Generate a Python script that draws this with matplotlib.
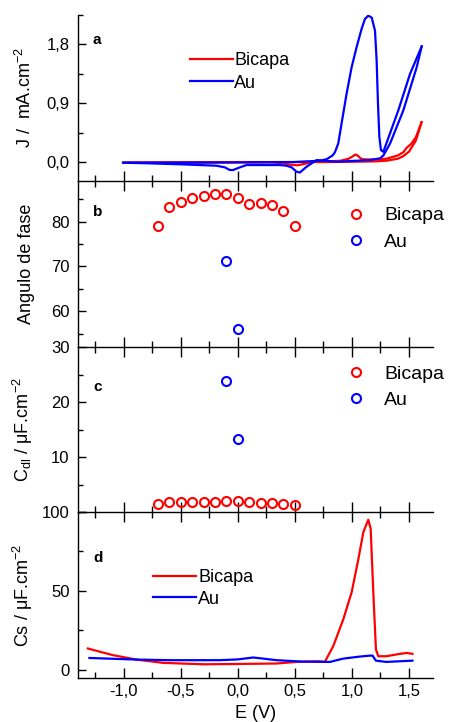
import matplotlib
matplotlib.use("Agg")
import matplotlib.pyplot as plt
from matplotlib.ticker import MultipleLocator, FuncFormatter

plt.rcParams["font.family"] = ["Liberation Sans", "DejaVu Sans"]
plt.rcParams["mathtext.fontset"] = "custom"
plt.rcParams["mathtext.rm"] = "Liberation Sans"
plt.rcParams["mathtext.it"] = "Liberation Sans:italic"
plt.rcParams["mathtext.bf"] = "Liberation Sans:bold"

# ---- (a) cyclic voltammograms: J (mA/cm2) vs E (V) ----
cv_bicapa_fwd_E = [-1.0, -0.5, 0.0, 0.5, 0.8, 0.9, 0.97, 1.0, 1.03, 1.05, 1.08, 1.12, 1.2, 1.3, 1.4, 1.45, 1.48, 1.52, 1.56, 1.61]
cv_bicapa_fwd_J = [-0.01, -0.005, 0.0, 0.0, 0.01, 0.02, 0.05, 0.08, 0.115, 0.10, 0.05, 0.04, 0.04, 0.05, 0.10, 0.15, 0.22, 0.28, 0.38, 0.61]
cv_bicapa_rev_E = [1.61, 1.56, 1.5, 1.45, 1.4, 1.3, 1.2, 1.0, 0.8, 0.65, 0.58, 0.52, 0.46, 0.38, 0.3, 0.0, -0.5, -1.0]
cv_bicapa_rev_J = [0.61, 0.33, 0.16, 0.09, 0.05, 0.02, 0.01, 0.005, 0.0, 0.0, -0.03, -0.05, -0.04, -0.015, -0.005, -0.005, -0.005, -0.01]

cv_au_fwd_E = [-1.0, -0.5, 0.0, 0.5, 0.72, 0.78, 0.807, 0.83, 0.851, 0.88, 0.909, 0.953, 0.997, 1.041, 1.085, 1.114, 1.143, 1.173, 1.202, 1.216, 1.228, 1.24, 1.254, 1.275, 1.333, 1.406, 1.509, 1.611]
cv_au_fwd_J = [-0.01, -0.01, -0.005, 0.0, 0.02, 0.045, 0.075, 0.1, 0.15, 0.284, 0.59, 1.046, 1.45, 1.76, 2.04, 2.19, 2.24, 2.21, 2.01, 1.56, 0.895, 0.387, 0.183, 0.157, 0.437, 0.79, 1.35, 1.77]
cv_au_rev_E = [1.611, 1.567, 1.45, 1.333, 1.275, 1.246, 1.158, 0.865, 0.69, 0.602, 0.544, 0.515, 0.471, 0.427, 0.368, 0.076, 0.018, -0.041, -0.07, -0.114, -0.187, -0.48, -0.772, -1.006]
cv_au_rev_J = [1.77, 1.45, 0.79, 0.28, 0.10, 0.057, 0.03, 0.005, 0.03, -0.072, -0.16, -0.148, -0.081, -0.056, -0.046, -0.046, -0.081, -0.122, -0.122, -0.081, -0.056, -0.036, -0.02, -0.01]

# ---- (b) phase angle and (c) double-layer capacitance ----
eis_bicapa_E = [-0.7, -0.6, -0.5, -0.4, -0.3, -0.2, -0.1, 0.0, 0.1, 0.2, 0.3, 0.4, 0.5]
phase_bicapa = [79.0, 83.2, 84.5, 85.2, 85.7, 86.1, 86.3, 85.4, 84.0, 84.1, 83.7, 82.5, 79.0]
cdl_bicapa = [1.5, 1.8, 1.8, 1.85, 1.85, 1.9, 2.0, 2.05, 1.8, 1.7, 1.7, 1.5, 1.2]
eis_au_E = [-0.1, 0.0]
phase_au = [71.2, 56.0]
cdl_au = [23.9, 13.3]

# ---- (d) series capacitance vs E ----
cs_bicapa_E = [-1.313, -1.2, -1.094, -0.89, -0.655, -0.3, -0.01, 0.34, 0.515, 0.69, 0.763, 0.836, 0.924, 0.997, 1.056, 1.1, 1.143, 1.164, 1.187, 1.21, 1.231, 1.30, 1.42, 1.48, 1.53]
cs_bicapa = [13.4, 11.2, 9.2, 6.4, 4.3, 3.4, 3.6, 3.9, 4.9, 5.3, 5.0, 14.9, 31.9, 49.0, 70.0, 87.3, 95.1, 89.4, 49.0, 12.8, 8.5, 8.5, 10.0, 10.6, 10.0]
cs_au_E = [-1.30, -0.89, -0.6, -0.16, 0.0, 0.134, 0.2, 0.34, 0.57, 0.807, 0.924, 1.07, 1.158, 1.18, 1.21, 1.30, 1.53]
cs_au = [7.4, 6.4, 6.0, 6.0, 6.5, 7.7, 7.2, 6.0, 5.1, 4.9, 7.0, 8.3, 8.9, 8.9, 5.7, 4.9, 5.7]

series_labels = ["Bicapa", "Au"]
RED = "#ff0000"
BLUE = "#0000ff"

fig = plt.figure(figsize=(4.75, 7.22), dpi=100)
W, H = 475.0, 722.0
left = 78 / W
width = 355 / W
bounds_px = [(15, 181), (181, 347), (347, 512), (512, 678)]
axes = []
for top, bot in bounds_px:
    ax = fig.add_axes([left, 1 - bot / H, width, (bot - top) / H])
    axes.append(ax)
ax_a, ax_b, ax_c, ax_d = axes


def comma1(v, pos=None):
    if abs(v) < 1e-9:
        v = 0.0
    return f"{v:.1f}".replace(".", ",")


def intfmt(v, pos=None):
    return f"{v:.0f}"


def intfmt_nozero(v, pos=None):
    # the zero of the Cdl axis sits under the "100" of the Cs axis below
    return "" if abs(v) < 1e-9 else f"{v:.0f}"


for i, ax in enumerate(axes):
    ax.set_xlim(-1.40, 1.71)
    ax.spines["top"].set_visible(False)
    ax.spines["right"].set_visible(False)
    ax.spines["left"].set_linewidth(1.0)
    ax.spines["bottom"].set_linewidth(1.0)
    ax.xaxis.set_major_locator(MultipleLocator(0.5))
    ax.xaxis.set_minor_locator(MultipleLocator(0.25))
    ax.xaxis.set_major_formatter(FuncFormatter(comma1))
    ax.tick_params(axis="x", which="both", direction="in", top=(i > 0),
                   labeltop=False, labelbottom=(i == 3), labelsize=12, pad=4,
                   width=1.0)
    ax.tick_params(axis="x", which="major", length=7)
    ax.tick_params(axis="x", which="minor", length=4)
    ax.tick_params(axis="y", which="both", direction="in", labelsize=12, pad=6,
                   width=1.0)
    ax.tick_params(axis="y", which="major", length=6)
    ax.tick_params(axis="y", which="minor", length=3.5)
    ax.patch.set_alpha(0)

# (a)
ax_a.plot(cv_bicapa_fwd_E, cv_bicapa_fwd_J, color=RED, lw=1.6)
ax_a.plot(cv_bicapa_rev_E, cv_bicapa_rev_J, color=RED, lw=1.6)
ax_a.plot(cv_au_fwd_E, cv_au_fwd_J, color=BLUE, lw=1.6)
ax_a.plot(cv_au_rev_E, cv_au_rev_J, color=BLUE, lw=1.6)
ax_a.set_ylim(-0.29, 2.25)
ax_a.yaxis.set_major_locator(MultipleLocator(0.9))
ax_a.yaxis.set_minor_locator(MultipleLocator(0.45))
ax_a.yaxis.set_major_formatter(FuncFormatter(comma1))
ax_a.set_ylabel(r"J /  mA.cm$^{-2}$", fontsize=13)
ha = [plt.Line2D([], [], color=RED, lw=1.6), plt.Line2D([], [], color=BLUE, lw=1.6)]
ax_a.legend(ha, series_labels, loc="upper left", bbox_to_anchor=(0.315, 0.775),
            frameon=False, fontsize=13, handlelength=2.4, handletextpad=0.05,
            borderpad=0, borderaxespad=0, labelspacing=0.3)

# (b)
mk = dict(marker="o", ls="none", mfc="none", ms=6.5, mew=1.5)
ax_b.plot(eis_bicapa_E, phase_bicapa, mec=RED, **mk)
ax_b.plot(eis_au_E, phase_au, mec=BLUE, **mk)
ax_b.set_ylim(52.0, 89.1)
ax_b.yaxis.set_major_locator(MultipleLocator(10))
ax_b.yaxis.set_minor_locator(MultipleLocator(5))
ax_b.yaxis.set_major_formatter(FuncFormatter(intfmt))
ax_b.set_ylabel("Angulo de fase", fontsize=13)

# (c)
ax_c.plot(eis_bicapa_E, cdl_bicapa, mec=RED, **mk)
ax_c.plot(eis_au_E, cdl_au, mec=BLUE, **mk)
ax_c.set_ylim(0, 30)
ax_c.yaxis.set_major_locator(MultipleLocator(10))
ax_c.yaxis.set_minor_locator(MultipleLocator(5))
ax_c.yaxis.set_major_formatter(FuncFormatter(intfmt_nozero))
ax_c.set_ylabel(r"C$_{\mathrm{dl}}$ / μF.cm$^{-2}$", fontsize=13)

hm = [plt.Line2D([], [], mec=RED, **mk), plt.Line2D([], [], mec=BLUE, **mk)]
for ax, ytop in ((ax_b, 0.845), (ax_c, 0.89)):
    ax.legend(hm, series_labels, loc="upper left", bbox_to_anchor=(0.75, ytop),
              frameon=False, fontsize=14, handlelength=1.2, handletextpad=0.85,
              borderpad=0, borderaxespad=0, labelspacing=0.45)

# (d)
ax_d.plot(cs_bicapa_E, cs_bicapa, color=RED, lw=1.6)
ax_d.plot(cs_au_E, cs_au, color=BLUE, lw=1.6)
ax_d.set_ylim(-5.3, 100)
ax_d.yaxis.set_major_locator(MultipleLocator(50))
ax_d.yaxis.set_minor_locator(MultipleLocator(25))
ax_d.yaxis.set_major_formatter(FuncFormatter(intfmt))
ax_d.set_ylabel(r"Cs / μF.cm$^{-2}$", fontsize=13)
ax_d.set_xlabel("E (V)", fontsize=13, labelpad=5)
ax_d.legend(ha, series_labels, loc="upper left", bbox_to_anchor=(0.211, 0.655),
            frameon=False, fontsize=13, handlelength=2.4, handletextpad=0.1,
            borderpad=0, borderaxespad=0, labelspacing=0.25)

for ax in axes:
    ax.yaxis.set_label_coords(-0.12, 0.5)

# panel letters
for ax, letter, y in ((ax_a, "a", 0.849), (ax_b, "b", 0.813), (ax_c, "c", 0.758), (ax_d, "d", 0.723)):
    ax.text(0.042, y, letter, transform=ax.transAxes, fontsize=11,
            fontweight="bold", ha="left", va="center")

fig.savefig("out.png", dpi=100)
